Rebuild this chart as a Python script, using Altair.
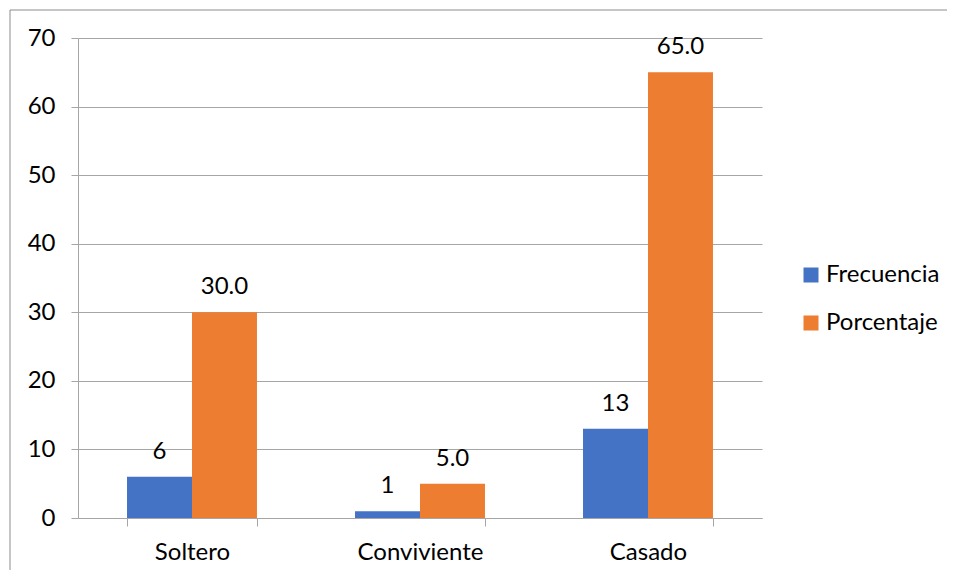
import altair as alt
import pandas as pd

categories = ["Soltero", "Conviviente", "Casado"]
series = ["Frecuencia", "Porcentaje"]
frecuencia = [6, 1, 13]
porcentaje = [30.0, 5.0, 65.0]
colors = ["#4472C4", "#ED7D31"]
y_ticks = [0, 10, 20, 30, 40, 50, 60, 70]

rows = []
for c, f, p in zip(categories, frecuencia, porcentaje):
    rows.append({"categoria": c, "serie": "Frecuencia", "valor": f, "label": f"{f:d}"})
    rows.append({"categoria": c, "serie": "Porcentaje", "valor": p, "label": f"{p:.1f}"})
df = pd.DataFrame(rows)

FONT = "Lato"
FS = 24
GRID = "#A6A6A6"

x_enc = alt.X(
    "categoria:N",
    sort=categories,
    scale=alt.Scale(paddingInner=0.43, paddingOuter=0.215),
    axis=alt.Axis(
        title=None, labelAngle=0, tickBand="extent", tickSize=8,
        tickColor=GRID, domainColor=GRID, labelFont=FONT, labelFontSize=FS,
        labelColor="black", labelPadding=14, grid=False,
    ),
)
y_enc = alt.Y(
    "valor:Q",
    scale=alt.Scale(domain=[0, 70], nice=False),
    axis=alt.Axis(
        title=None, values=y_ticks, grid=True, gridColor=GRID, tickColor=GRID,
        domainColor=GRID, tickSize=7, labelFont=FONT, labelFontSize=FS,
        labelColor="black", labelPadding=16,
    ),
)
xo = alt.XOffset("serie:N", sort=series)

bars = alt.Chart(df).mark_bar().encode(
    x=x_enc,
    y=y_enc,
    xOffset=xo,
    color=alt.Color(
        "serie:N",
        sort=series,
        scale=alt.Scale(domain=series, range=colors),
        legend=alt.Legend(
            title=None, orient="none", legendX=721, legendY=225,
            symbolType="square", symbolSize=225, symbolStrokeWidth=0,
            labelFont=FONT, labelFontSize=FS, labelColor="black",
            labelOffset=3, rowPadding=24,
        ),
    ),
)

texts = alt.Chart(df).mark_text(
    dy=-18, baseline="alphabetic", font=FONT, fontSize=FS, color="black"
).encode(
    x=alt.X("categoria:N", sort=categories),
    y=alt.Y("valor:Q"),
    xOffset=xo,
    text="label:N",
)

edge = pd.DataFrame({"k": [0]})
border_top = alt.Chart(edge).mark_rule(color="#8C8C8C", strokeWidth=1).encode(
    x=alt.value(-68), x2=alt.value(869), y=alt.value(-28)
)
border_left = alt.Chart(edge).mark_rule(color="#8C8C8C", strokeWidth=1).encode(
    x=alt.value(-68), y=alt.value(-28), y2=alt.value(533)
)

chart = alt.layer(border_top, border_left, bars, texts).properties(
    width=684, height=480,
    autosize=alt.AutoSizeParams(type="none"),
    padding={"left": 70, "top": 30, "right": 185, "bottom": 52},
).configure_view(stroke=None)

chart.save("out.html", embed_options={"renderer": "svg", "actions": False})
